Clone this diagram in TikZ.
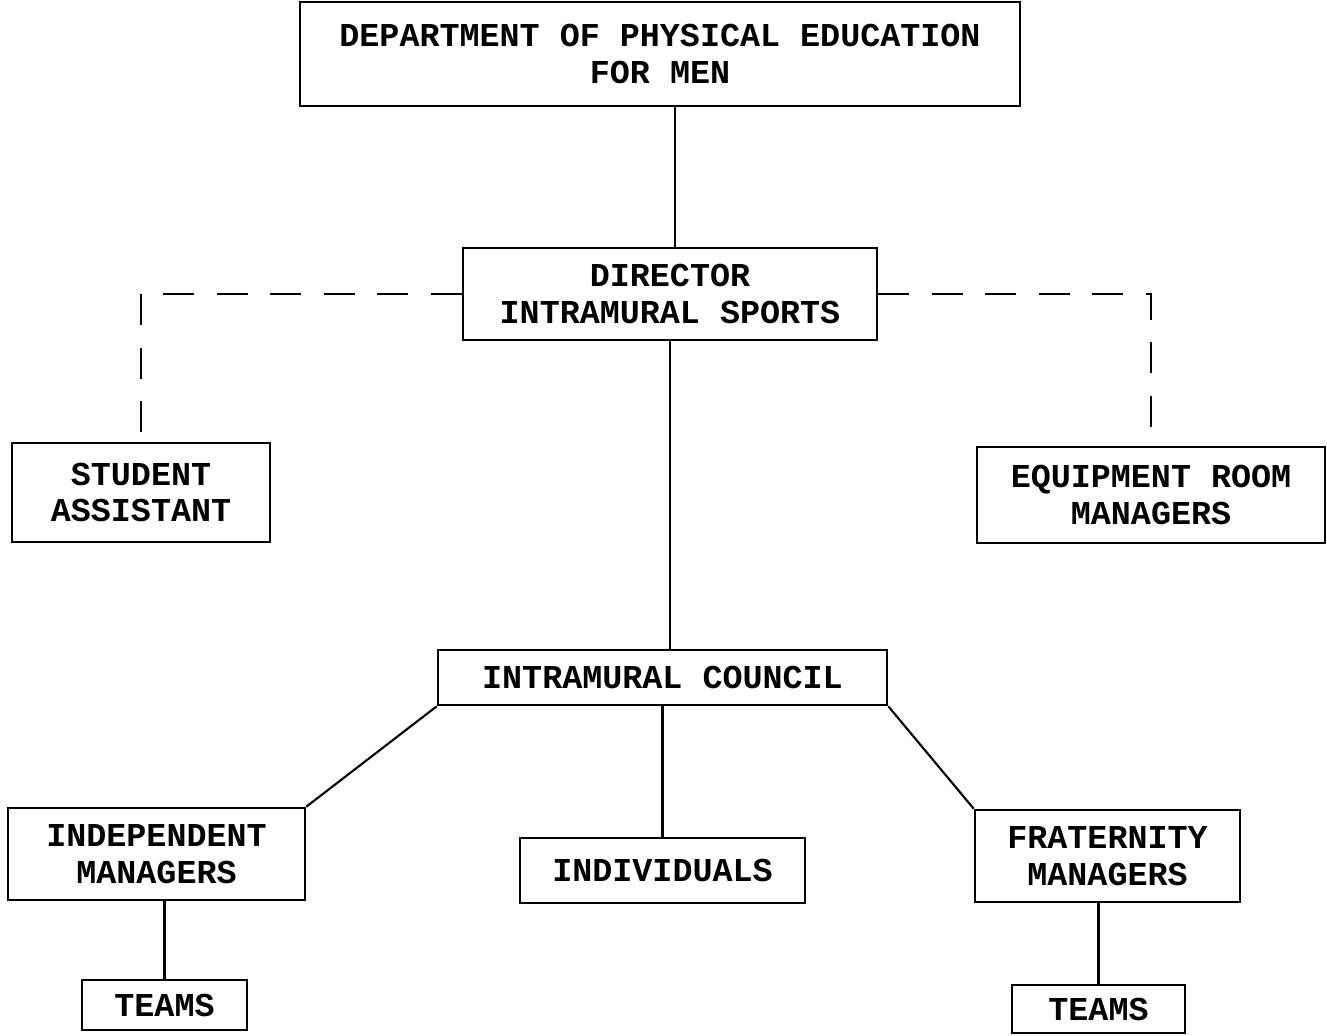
\documentclass[tikz,border=0pt]{standalone}
\usepackage{fontspec}
\setmonofont{Liberation Mono}

\begin{document}
\begin{tikzpicture}[
        box/.style={draw,line width=1.5pt,align=center,inner sep=0pt,
            font=\ttfamily\bfseries\fontsize{19}{21}\selectfont},
        link/.style={line width=1.2pt},
        dashlink/.style={line width=1.3pt,dash pattern=on 0.62cm off 0.45cm}]
        \useasboundingbox (0,0) rectangle (26.54,-20.7);
        \node[box,minimum width=14.4cm,minimum height=2.08cm](dept)at(13.2,-1.08){DEPARTMENT OF PHYSICAL EDUCATION\\FOR MEN};
        \node[box,minimum width=8.28cm,minimum height=1.84cm](dir)at(13.4,-5.88){DIRECTOR\\INTRAMURAL SPORTS};
        \node[box,minimum width=5.16cm,minimum height=1.98cm](stud)at(2.82,-9.85){STUDENT\\ASSISTANT};
        \node[box,minimum width=6.96cm,minimum height=1.92cm](equip)at(23.02,-9.9){EQUIPMENT ROOM\\MANAGERS};
        \node[box,minimum width=8.98cm,minimum height=1.1cm](council)at(13.25,-13.55){INTRAMURAL COUNCIL};
        \node[box,minimum width=5.94cm,minimum height=1.84cm](indep)at(3.13,-17.08){INDEPENDENT\\MANAGERS};
        \node[box,minimum width=5.7cm,minimum height=1.3cm](indiv)at(13.25,-17.41){INDIVIDUALS};
        \node[box,minimum width=5.3cm,minimum height=1.84cm](frat)at(22.15,-17.12){FRATERNITY\\MANAGERS};
        \node[box,minimum width=3.3cm,minimum height=1cm](teamsA)at(3.29,-20.1){TEAMS};
        \node[box,minimum width=3.46cm,minimum height=0.96cm](teamsB)at(21.97,-20.18){TEAMS};
        % solid lines
        \draw[link]([xshift=0.1cm]dir.north)--([xshift=0.1cm]dir.north|-dept.south);
        \draw[link](dir.south)--(dir.south|-council.north);
        \draw[link](council.south west)--(indep.north east);
        \draw[link](council.south)--(indiv.north);
        \draw[link](council.south east)--(frat.north west);
        \draw[link](teamsA.north)--(teamsA.north|-indep.south);
        \draw[link](teamsB.north)--(teamsB.north|-frat.south);
        % dashed lines
        \draw[dashlink](dir.west)-|(stud.north);
        \draw[dashlink](dir.east)-|(equip.north);
    \end{tikzpicture}
\end{document}
